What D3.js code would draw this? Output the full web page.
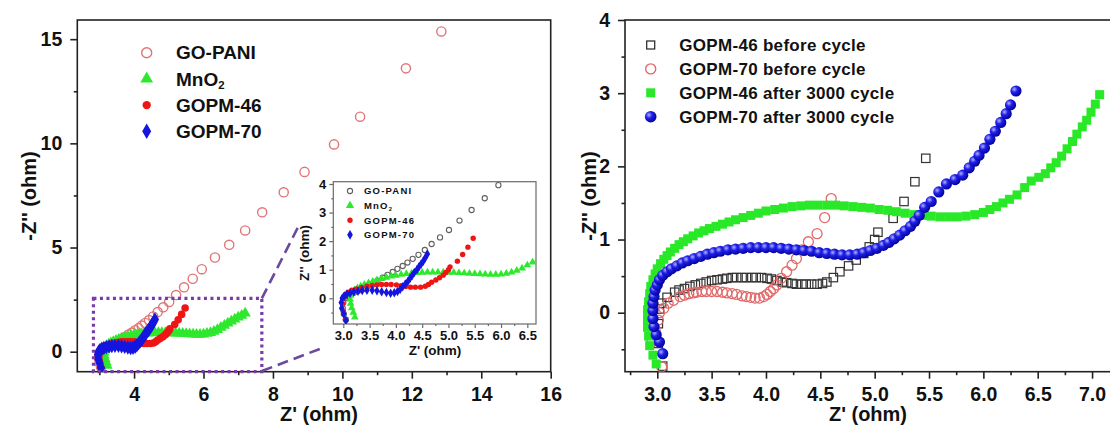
<!DOCTYPE html>
<html><head><meta charset="utf-8">
<script src="https://cdn.jsdelivr.net/npm/d3@7"></script>
<style>body{margin:0;background:#fff}text{font-family:Arial,"Liberation Sans",sans-serif;font-weight:bold}</style>
</head><body><svg id="c" width="1110" height="428"></svg>
<script>
// ---------- Left panel data ----------
const goPani = [[3.05,-0.75],[3.01,-0.55],[2.99,-0.35],[3.0,-0.15],[3.03,0.0],[3.08,0.09],[3.14,0.15],[3.21,0.2],[3.29,0.26],[3.37,0.32],[3.46,0.41],[3.56,0.51],[3.65,0.62],[3.75,0.72],[3.84,0.82],[3.94,0.92],[4.03,1.03],[4.13,1.13],[4.22,1.25],[4.32,1.38],[4.43,1.52],[4.55,1.69],[4.68,1.9],[4.84,2.13],[5.01,2.39],[5.21,2.72],[5.44,3.09],[5.69,3.5],[5.95,3.96],[6.33,4.52],[6.74,5.13],[7.2,5.82],[7.69,6.69],[8.31,7.65],[8.91,8.63],[9.76,9.95],[10.51,11.28],[11.83,13.6],[12.85,15.37]];
const mno2 = [[3.22,-0.66],[3.19,-0.5],[3.16,-0.34],[3.14,-0.18],[3.13,-0.03],[3.14,0.1],[3.17,0.2],[3.21,0.29],[3.27,0.36],[3.33,0.42],[3.4,0.48],[3.48,0.54],[3.56,0.59],[3.64,0.64],[3.73,0.69],[3.82,0.73],[3.91,0.77],[4.0,0.8],[4.1,0.83],[4.2,0.86],[4.3,0.88],[4.4,0.89],[4.5,0.9],[4.6,0.91],[4.7,0.91],[4.8,0.91],[4.9,0.91],[5.0,0.9],[5.1,0.9],[5.2,0.89],[5.3,0.88],[5.4,0.87],[5.5,0.86],[5.6,0.85],[5.7,0.84],[5.8,0.83],[5.9,0.83],[6.0,0.84],[6.1,0.87],[6.2,0.91],[6.3,0.97],[6.4,1.05],[6.5,1.16],[6.6,1.26],[6.7,1.36],[6.8,1.46],[6.9,1.56],[7.0,1.65],[7.1,1.74],[7.2,1.84]];
const gopm46 = [[3.04,-0.74],[3.0,-0.45],[2.99,-0.2],[3.01,0.02],[3.04,0.13],[3.09,0.21],[3.16,0.28],[3.25,0.33],[3.35,0.38],[3.45,0.42],[3.55,0.45],[3.64,0.47],[3.73,0.48],[3.82,0.48],[3.91,0.48],[4.01,0.47],[4.1,0.44],[4.19,0.41],[4.28,0.39],[4.37,0.39],[4.47,0.39],[4.56,0.42],[4.62,0.48],[4.68,0.56],[4.76,0.64],[4.83,0.72],[4.9,0.81],[4.95,0.9],[5.0,1.0],[5.03,1.1],[5.17,1.3],[5.27,1.53],[5.37,1.79],[5.47,2.1]];
const gopm70 = [[3.05,-0.78],[3.01,-0.55],[2.97,-0.35],[2.96,-0.15],[2.98,0.0],[3.02,0.08],[3.07,0.14],[3.13,0.18],[3.2,0.22],[3.28,0.25],[3.36,0.27],[3.45,0.28],[3.55,0.28],[3.64,0.26],[3.73,0.23],[3.82,0.2],[3.9,0.18],[3.97,0.19],[4.03,0.24],[4.08,0.31],[4.13,0.4],[4.18,0.5],[4.23,0.6],[4.27,0.7],[4.31,0.8],[4.35,0.9],[4.4,1.0],[4.44,1.1],[4.48,1.2],[4.52,1.3],[4.56,1.42],[4.6,1.55]];
const leftNames = ["GO-PANI","MnO2","GOPM-46","GOPM-70"];
const leftXTicks = [4,6,8,10,12,14,16];
const leftXMinor = [3,5,7,9,11,13,15];
const leftYTicks = [0,5,10,15];
const leftYMinor = [2.5,7.5,12.5];
const insetXTicks = [3.0,3.5,4.0,4.5,5.0,5.5,6.0,6.5];
const insetXMinor = [3.25,3.75,4.25,4.75,5.25,5.75,6.25];
const insetYTicks = [0,1,2,3,4];
const insetYMinor = [-0.5,0.5,1.5,2.5,3.5];
const zoomBox = [2.83, 7.68, -0.96, 2.56];
// ---------- Right panel data ----------
const before46 = [[3.05,-0.73],[3.01,-0.42],[3.01,-0.15],[3.02,0.05],[3.04,0.13],[3.09,0.21],[3.16,0.28],[3.2,0.31],[3.25,0.33],[3.3,0.36],[3.35,0.38],[3.4,0.4],[3.45,0.42],[3.5,0.44],[3.55,0.45],[3.6,0.46],[3.64,0.47],[3.69,0.48],[3.73,0.48],[3.78,0.48],[3.82,0.48],[3.87,0.48],[3.91,0.48],[3.96,0.48],[4.01,0.47],[4.05,0.46],[4.1,0.44],[4.15,0.42],[4.19,0.41],[4.24,0.4],[4.28,0.39],[4.33,0.39],[4.37,0.39],[4.42,0.39],[4.47,0.39],[4.52,0.4],[4.56,0.42],[4.62,0.48],[4.68,0.56],[4.76,0.64],[4.83,0.72],[4.9,0.81],[4.95,0.9],[5.0,1.0],[5.03,1.1],[5.17,1.29],[5.27,1.52],[5.37,1.79],[5.47,2.11]];
const before70 = [[3.04,-0.74],[2.95,-0.4],[2.98,-0.24],[3.01,-0.1],[3.02,0.0],[3.06,0.06],[3.1,0.13],[3.15,0.17],[3.21,0.22],[3.25,0.24],[3.29,0.26],[3.33,0.27],[3.36,0.28],[3.41,0.29],[3.45,0.29],[3.5,0.29],[3.55,0.29],[3.6,0.28],[3.64,0.27],[3.69,0.26],[3.73,0.25],[3.78,0.23],[3.82,0.22],[3.86,0.21],[3.9,0.2],[3.94,0.2],[3.98,0.22],[4.01,0.25],[4.04,0.29],[4.07,0.33],[4.1,0.38],[4.14,0.47],[4.19,0.56],[4.24,0.65],[4.28,0.74],[4.33,0.86],[4.39,0.97],[4.47,1.08],[4.54,1.3],[4.6,1.56]];
const after46 = [[2.99,-0.7],[2.96,-0.58],[2.93,-0.45],[2.92,-0.32],[2.91,-0.2],[2.91,-0.08],[2.91,0.04],[2.92,0.15],[2.93,0.26],[2.94,0.36],[2.96,0.45],[2.98,0.53],[3.0,0.6],[3.03,0.67],[3.06,0.73],[3.09,0.78],[3.12,0.83],[3.16,0.88],[3.2,0.93],[3.24,0.97],[3.28,1.01],[3.33,1.05],[3.38,1.09],[3.43,1.12],[3.48,1.15],[3.54,1.18],[3.6,1.21],[3.66,1.24],[3.72,1.27],[3.79,1.3],[3.86,1.33],[3.93,1.36],[4.0,1.39],[4.08,1.41],[4.16,1.43],[4.24,1.45],[4.32,1.46],[4.4,1.47],[4.48,1.47],[4.56,1.47],[4.64,1.47],[4.72,1.46],[4.8,1.45],[4.88,1.44],[4.96,1.43],[5.04,1.41],[5.12,1.4],[5.2,1.38],[5.28,1.36],[5.36,1.34],[5.44,1.33],[5.52,1.32],[5.6,1.31],[5.68,1.31],[5.76,1.31],[5.84,1.32],[5.92,1.34],[6.0,1.37],[6.06,1.41],[6.12,1.45],[6.18,1.5],[6.24,1.55],[6.31,1.61],[6.38,1.71],[6.44,1.8],[6.51,1.85],[6.57,1.9],[6.62,1.98],[6.67,2.05],[6.72,2.14],[6.77,2.24],[6.82,2.34],[6.86,2.44],[6.91,2.54],[6.95,2.63],[6.99,2.74],[7.03,2.85],[7.07,2.98]];
const after70 = [[3.05,-0.56],[3.02,-0.4],[2.99,-0.3],[2.97,-0.19],[2.96,-0.08],[2.96,0.03],[2.96,0.13],[2.97,0.22],[2.98,0.31],[3.0,0.38],[3.02,0.45],[3.05,0.51],[3.09,0.56],[3.13,0.6],[3.18,0.64],[3.23,0.68],[3.28,0.71],[3.34,0.74],[3.4,0.77],[3.46,0.8],[3.52,0.82],[3.58,0.84],[3.65,0.86],[3.72,0.87],[3.79,0.88],[3.86,0.89],[3.93,0.89],[4.0,0.89],[4.07,0.89],[4.14,0.88],[4.21,0.87],[4.28,0.86],[4.35,0.85],[4.42,0.84],[4.49,0.82],[4.56,0.81],[4.63,0.8],[4.7,0.79],[4.77,0.79],[4.84,0.8],[4.9,0.82],[4.96,0.85],[5.02,0.88],[5.08,0.92],[5.13,0.96],[5.18,1.01],[5.23,1.06],[5.28,1.12],[5.33,1.18],[5.37,1.25],[5.41,1.33],[5.46,1.44],[5.52,1.52],[5.59,1.65],[5.66,1.76],[5.74,1.82],[5.81,1.88],[5.87,1.98],[5.92,2.07],[5.96,2.15],[6.01,2.25],[6.06,2.37],[6.11,2.48],[6.16,2.6],[6.21,2.72],[6.25,2.84],[6.3,3.03]];
const rightNames = ["GOPM-46 before cycle","GOPM-70 before cycle","GOPM-46 after 3000 cycle","GOPM-70 after 3000 cycle"];
const rightXTicks = [3.0,3.5,4.0,4.5,5.0,5.5,6.0,6.5,7.0];
const rightXMinor = [2.75,3.25,3.75,4.25,4.75,5.25,5.75,6.25,6.75];
const rightYTicks = [0,1,2,3,4];
const rightYMinor = [-0.5,0.5,1.5,2.5,3.5];

const svg = d3.select("#c");
svg.append("rect").attr("width",1110).attr("height",428).attr("fill","#fff");
const defs = svg.append("defs");
const grad = defs.append("radialGradient").attr("id","sph").attr("cx","0.35").attr("cy","0.35").attr("r","0.7");
grad.append("stop").attr("offset","0%").attr("stop-color","#b0b0ff");
grad.append("stop").attr("offset","40%").attr("stop-color","#2020e8");
grad.append("stop").attr("offset","100%").attr("stop-color","#00009a");

function clip(id, x, y){
  defs.append("clipPath").attr("id",id).append("rect")
    .attr("x",x.range()[0]).attr("y",y.range()[1])
    .attr("width",x.range()[1]-x.range()[0]).attr("height",y.range()[0]-y.range()[1]);
}
function axes(g, x, y, o){
  const fmt = o.fmt || (d=>d);
  const bx = g.append("g").attr("transform",`translate(0,${y.range()[0]})`)
    .call(d3.axisBottom(x).tickValues(o.xt).tickSize(o.tl).tickPadding(o.pad).tickFormat(o.xfmt||fmt));
  const bxm = g.append("g").attr("transform",`translate(0,${y.range()[0]})`)
    .call(d3.axisBottom(x).tickValues(o.xm).tickSize(o.tl/2).tickFormat(""));
  const ly = g.append("g").attr("transform",`translate(${x.range()[0]},0)`)
    .call(d3.axisLeft(y).tickValues(o.yt).tickSize(o.tl).tickPadding(o.pad).tickFormat(fmt));
  const lym = g.append("g").attr("transform",`translate(${x.range()[0]},0)`)
    .call(d3.axisLeft(y).tickValues(o.ym).tickSize(o.tl/2).tickFormat(""));
  [bx,bxm,ly,lym].forEach(a=>{a.select(".domain").remove();
    a.selectAll("line").attr("stroke",o.col).attr("stroke-width",o.sw);
    a.selectAll("text").attr("fill","#111").style("font-size",o.fs+"px").style("font-weight","bold").attr("font-family","Arial, Liberation Sans, sans-serif");});
  g.append("rect").attr("x",x.range()[0]).attr("y",y.range()[1])
    .attr("width",x.range()[1]-x.range()[0]).attr("height",y.range()[0]-y.range()[1])
    .attr("fill","none").attr("stroke",o.col).attr("stroke-width",o.sw);
}

// ---------- LEFT MAIN ----------
const xL = d3.scaleLinear().domain([2.365,16]).range([77.3,550.7]);
const yL = d3.scaleLinear().domain([-0.96,15.92]).range([371.7,20]);
clip("cL",xL,yL);
const gL = svg.append("g");
axes(gL,xL,yL,{xt:leftXTicks,xm:leftXMinor,yt:leftYTicks,ym:leftYMinor,tl:7,pad:8,fs:19.5,col:"#222",sw:1.6});
const pL = gL.append("g").attr("clip-path","url(#cL)");
function plotLeft(p, x, y, s){
  p.selectAll(null).data(goPani).join("circle").attr("cx",d=>x(d[0])).attr("cy",d=>y(d[1])).attr("r",s.r)
    .attr("fill","none").attr("stroke",s.gpCol).attr("stroke-width",s.sw);
  p.selectAll(null).data(mno2).join("path").attr("d",d3.symbol(d3.symbolTriangle,s.tri))
    .attr("transform",d=>`translate(${x(d[0])},${y(d[1])})`).attr("fill","#2ee82e");
  p.selectAll(null).data(gopm46).join("circle").attr("cx",d=>x(d[0])).attr("cy",d=>y(d[1])).attr("r",s.rd).attr("fill","#ee1515");
  p.selectAll(null).data(gopm70).join("path").attr("d",d3.symbol(d3.symbolDiamond,s.dia))
    .attr("transform",d=>`translate(${x(d[0])},${y(d[1])})`).attr("fill","#1515e0");
}
plotLeft(pL,xL,yL,{r:4.6,gpCol:"#e07575",sw:1.4,tri:55,rd:3.8,dia:60});
const legL = gL.append("g");
function legendMark(g, i, cx, cy, s){
  if(i===0) g.append("circle").attr("cx",cx).attr("cy",cy).attr("r",s.r).attr("fill","none").attr("stroke",s.gpCol).attr("stroke-width",s.sw);
  if(i===1) g.append("path").attr("d",d3.symbol(d3.symbolTriangle,s.tri)).attr("transform",`translate(${cx},${cy})`).attr("fill","#2ee82e");
  if(i===2) g.append("circle").attr("cx",cx).attr("cy",cy).attr("r",s.rd).attr("fill","#ee1515");
  if(i===3) g.append("path").attr("d",d3.symbol(d3.symbolDiamond,s.dia)).attr("transform",`translate(${cx},${cy})`).attr("fill","#1515e0");
}
function legendText(g, name, x, y, fs, ls){
  const t = g.append("text").attr("x",x).attr("y",y).attr("dy","0.35em").style("font-size",fs+"px").attr("fill","#111").style("letter-spacing",ls+"px");
  if(name==="MnO2"){ t.append("tspan").text("MnO"); t.append("tspan").text("2").style("font-size",(fs*0.6)+"px").attr("dy","0.3em"); }
  else t.text(name);
}
leftNames.forEach((n,i)=>{ const cy = 52.7 + i*26.2;
  legendMark(legL,i,146.7,cy,{r:5,gpCol:"#e07575",sw:1.4,tri:70,rd:4.2,dia:70});
  legendText(legL,n,176,cy,19,0); });
gL.append("rect").attr("x",xL(zoomBox[0])).attr("y",yL(zoomBox[3]))
  .attr("width",xL(zoomBox[1])-xL(zoomBox[0])).attr("height",yL(zoomBox[2])-yL(zoomBox[3]))
  .attr("fill","none").attr("stroke","#7a3aa8").attr("stroke-width",3.2).attr("stroke-dasharray","3,3.5");
gL.append("line").attr("x1",xL(zoomBox[1])).attr("y1",yL(zoomBox[3])).attr("x2",xL(8.73)).attr("y2",yL(6.0))
  .attr("stroke","#6a4a9e").attr("stroke-width",2.6).attr("stroke-dasharray","11,6");
gL.append("line").attr("x1",xL(zoomBox[1])).attr("y1",yL(-0.93)).attr("x2",xL(9.39)).attr("y2",yL(0.16))
  .attr("stroke","#6a4a9e").attr("stroke-width",2.6).attr("stroke-dasharray","11,6");
svg.append("text").attr("x",(77.3+550.7)/2+5).attr("y",421).attr("text-anchor","middle").style("font-size","20px").attr("fill","#111").text("Z' (ohm)");
svg.append("text").attr("transform","translate(36,196) rotate(-90)").attr("text-anchor","middle").style("font-size","20px").attr("fill","#111").text("-Z'' (ohm)");

// ---------- INSET ----------
const xI = d3.scaleLinear().domain([2.81,6.665]).range([333.3,536]);
const yI = d3.scaleLinear().domain([-0.9,4.08]).range([324,181.7]);
clip("cI",xI,yI);
const gI = svg.append("g");
gI.append("rect").attr("x",333.3).attr("y",181.7).attr("width",536-333.3).attr("height",324-181.7).attr("fill","#fff");
axes(gI,xI,yI,{xt:insetXTicks,xm:insetXMinor,yt:insetYTicks,ym:insetYMinor,tl:4,pad:3,fs:13,col:"#6a6a6a",sw:1.2,xfmt:d3.format(".1f"),fmt:d3.format("d")});
const pI = gI.append("g").attr("clip-path","url(#cI)");
plotLeft(pI,xI,yI,{r:2.6,gpCol:"#606060",sw:1.1,tri:26,rd:2.7,dia:26});
const legI = gI.append("g");
leftNames.forEach((n,i)=>{ const cy = 191 + i*14.6;
  legendMark(legI,i,350,cy,{r:2.6,gpCol:"#606060",sw:1.1,tri:30,rd:2.7,dia:28});
  legendText(legI,n,364,cy,9.5,1.2); });
svg.append("text").attr("x",435).attr("y",355).attr("text-anchor","middle").style("font-size","13.5px").attr("fill","#111").text("Z' (ohm)");
svg.append("text").attr("transform","translate(309,253) rotate(-90)").attr("text-anchor","middle").style("font-size","13.5px").attr("fill","#111").text("Z'' (ohm)");

// ---------- RIGHT ----------
const xR = d3.scaleLinear().domain([2.703,7.2]).range([625,1113.8]);
const yR = d3.scaleLinear().domain([-0.806,4]).range([371.7,20]);
clip("cR",xR,yR);
const gR = svg.append("g");
axes(gR,xR,yR,{xt:rightXTicks,xm:rightXMinor,yt:rightYTicks,ym:rightYMinor,tl:7,pad:8,fs:19.5,col:"#222",sw:1.6,xfmt:d3.format(".1f"),fmt:d3.format("d")});
const pR = gR.append("g").attr("clip-path","url(#cR)");
pR.selectAll(null).data(before46).join("rect").attr("x",d=>xR(d[0])-4.2).attr("y",d=>yR(d[1])-4.2).attr("width",8.4).attr("height",8.4)
  .attr("fill","none").attr("stroke","#333").attr("stroke-width",1.2);
pR.selectAll(null).data(before70).join("circle").attr("cx",d=>xR(d[0])).attr("cy",d=>yR(d[1])).attr("r",5)
  .attr("fill","none").attr("stroke","#e06a6a").attr("stroke-width",1.3);
pR.selectAll(null).data(after46).join("rect").attr("x",d=>xR(d[0])-4.5).attr("y",d=>yR(d[1])-4.5).attr("width",9).attr("height",9)
  .attr("fill","#28e828");
pR.selectAll(null).data(after70).join("circle").attr("cx",d=>xR(d[0])).attr("cy",d=>yR(d[1])).attr("r",5.6)
  .attr("fill","url(#sph)");
const legR = gR.append("g");
rightNames.forEach((n,i)=>{ const cy = 45 + i*23.9, cx = 650.7;
  if(i===0) legR.append("rect").attr("x",cx-4).attr("y",cy-4).attr("width",8).attr("height",8).attr("fill","none").attr("stroke","#333").attr("stroke-width",1.3);
  if(i===1) legR.append("circle").attr("cx",cx).attr("cy",cy).attr("r",5).attr("fill","none").attr("stroke","#e06a6a").attr("stroke-width",1.4);
  if(i===2) legR.append("rect").attr("x",cx-4.5).attr("y",cy-4.5).attr("width",9).attr("height",9).attr("fill","#28e828");
  if(i===3) legR.append("circle").attr("cx",cx).attr("cy",cy).attr("r",5.8).attr("fill","url(#sph)");
  legendText(legR,n,679.3,cy,17,0.3); });
svg.append("text").attr("x",868).attr("y",421).attr("text-anchor","middle").style("font-size","20px").attr("fill","#111").text("Z' (ohm)");
svg.append("text").attr("transform","translate(596,196) rotate(-90)").attr("text-anchor","middle").style("font-size","20px").attr("fill","#111").text("-Z'' (ohm)");
</script></body></html>
